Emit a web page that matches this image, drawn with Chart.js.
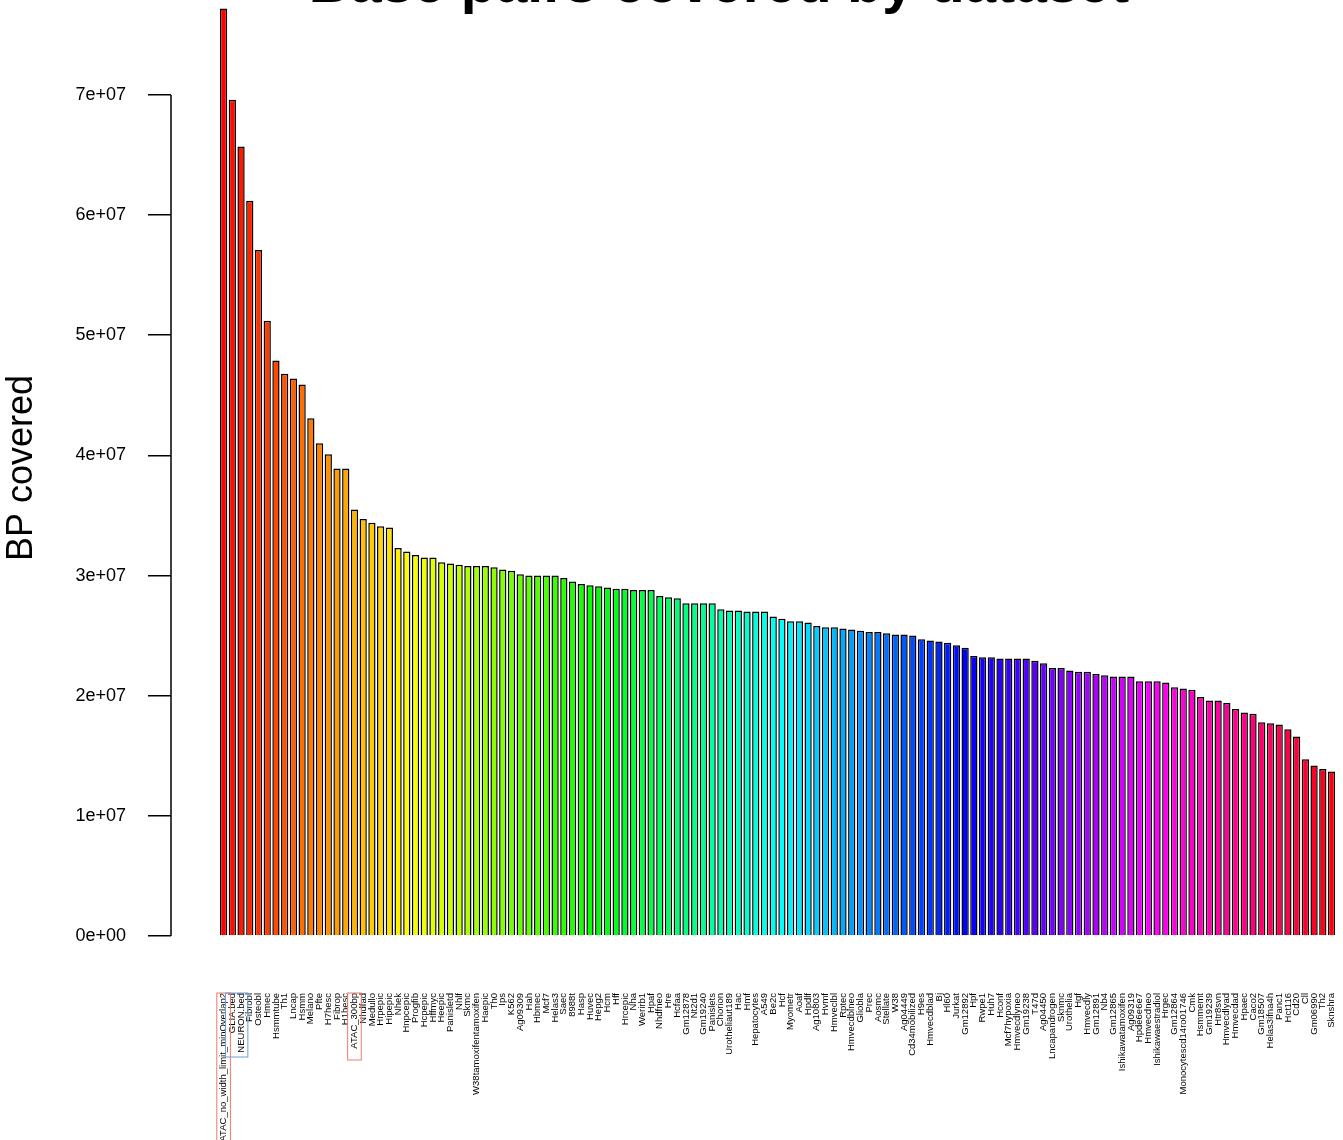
<!DOCTYPE html>
<html>
<head>
<meta charset="utf-8">
<script src="https://cdn.jsdelivr.net/npm/chart.js@4"></script>
<style>
    html, body { margin: 0; padding: 0; background: #fff; }
    #wrap { width: 1343px; height: 1140px; }
</style>
</head>
<body>
<div id="wrap"><canvas id="bpChart" width="1343" height="1140"></canvas></div>
<script>
// Dataset names, in plot order
const datasets = [
    'ATAC_no_width_limit_minOverlap2', 'GLIA.bed', 'NEURON.bed', 'Fibrobl', 'Osteobl', 'Hmec', 'Hsmmtube', 'Th1',
    'Lncap', 'Hsmm', 'Melano', 'Pfte', 'H7hesc', 'Fibrop', 'H1hesc', 'ATAC_300bp', 'Nhdfad', 'Medullo',
    'Hrpepic', 'Hipepic', 'Nhek', 'Hnpcepic', 'Progfib', 'Hcpepic', 'Hffmyc', 'Heepic', 'Panisletd', 'Nhlf',
    'Skmc', 'W38tamoxifentamoxifen', 'Haepic', 'Th0', 'Ips', 'K562', 'Ag09309', 'Hah', 'Hbmec', 'Mcf7',
    'Helas3', 'Saec', '8988t', 'Hasp', 'Huvec', 'Hepg2', 'Hcm', 'Hff', 'Hrcepic', 'Nha', 'Werirb1', 'Hpaf',
    'Nhdfneo', 'Hre', 'Hcfaa', 'Gm12878', 'Nt2d1', 'Gm19240', 'Panislets', 'Chorion', 'Urotheliaut189', 'Hac',
    'Hmf', 'Hepatocytes', 'A549', 'Be2c', 'Hcf', 'Myometr', 'Aoaf', 'Hpdlf', 'Ag10803', 'Hvmf', 'Hmveclbl',
    'Rptec', 'Hmvecdblneo', 'Gliobla', 'Prec', 'Aosmc', 'Stellate', 'W38', 'Ag04449', 'Cd34mobilized', 'H9es',
    'Hmvecdblad', 'Bj', 'Hl60', 'Jurkat', 'Gm12892', 'Hpf', 'Rwpe1', 'Huh7', 'Hconf', 'Mcf7hypoxia',
    'Hmvecdlyneo', 'Gm19238', 'T47d', 'Ag04450', 'Lncapandrogen', 'Sknmc', 'Urothelia', 'Hgf', 'Hmvecdly',
    'Gm12891', 'Nb4', 'Gm12865', 'Ishikawatamoxifen', 'Ag09319', 'Hpde6e6e7', 'Hmvecdneo', 'Ishikawaestradiol',
    'Hrgec', 'Gm12864', 'Monocytescd14ro01746', 'Cmk', 'Hsmmemt', 'Gm19239', 'Htr8svn', 'Hmvecdlyad',
    'Hmvecdad', 'Hpaec', 'Caco2', 'Gm18507', 'Helas3ifna4h', 'Panc1', 'Hct116', 'Cd20', 'Cll', 'Gm06990',
    'Th2', 'Sknshra'
];

// Base pairs covered, in millions
const bpMillions = [
    77.2, 69.6, 65.7, 61.2, 57.1, 51.2, 47.9, 46.8, 46.4, 45.9, 43.1, 41.0, 40.1, 38.9, 38.9, 35.5,
    34.7, 34.4, 34.1, 34.0, 32.3, 32.0, 31.7, 31.5, 31.5, 31.1, 31.0, 30.9, 30.8, 30.8, 30.8, 30.7,
    30.5, 30.4, 30.1, 30.0, 30.0, 30.0, 30.0, 29.8, 29.5, 29.3, 29.2, 29.1, 29.0, 28.9, 28.9, 28.8,
    28.8, 28.8, 28.3, 28.2, 28.1, 27.7, 27.7, 27.7, 27.7, 27.2, 27.1, 27.1, 27.0, 27.0, 27.0, 26.6,
    26.4, 26.2, 26.2, 26.1, 25.8, 25.7, 25.7, 25.6, 25.5, 25.4, 25.3, 25.3, 25.2, 25.1, 25.1, 25.0,
    24.7, 24.6, 24.5, 24.4, 24.2, 24.0, 23.3, 23.2, 23.2, 23.1, 23.1, 23.1, 23.1, 22.9, 22.7, 22.3,
    22.3, 22.1, 22.0, 22.0, 21.8, 21.7, 21.6, 21.6, 21.6, 21.2, 21.2, 21.2, 21.1, 20.7, 20.6, 20.5,
    19.9, 19.6, 19.6, 19.4, 18.9, 18.6, 18.5, 17.8, 17.7, 17.6, 17.2, 16.6, 14.7, 14.2, 13.9, 13.7
];

// Y axis tick values
const yTicks = [0, 1e7, 2e7, 3e7, 4e7, 5e7, 6e7, 7e7];

// Labels that get a box drawn round them: [first index, last index, colour, box length]
const boxedLabels = [
    [0, 0, '#f07a6a', 160],
    [1, 2, '#6f9fd8', 64],
    [15, 15, '#f07a6a', 67]
];

const FONT = '"Liberation Sans", Helvetica, Arial, sans-serif';

// R-style rainbow colours
const barColors = datasets.map((_, i) => `hsl(${(i / datasets.length) * 360}, 100%, 50%)`);

// Title, axis line and label boxes
const extras = {
    id: 'extras',
    afterDraw(chart) {
        const ctx = chart.ctx;
        const x = chart.scales.x;
        const y = chart.scales.y;
        ctx.save();

        // title (runs off the top of the picture)
        ctx.fillStyle = '#000';
        ctx.font = 'bold 57px ' + FONT;
        ctx.textAlign = 'center';
        ctx.textBaseline = 'alphabetic';
        ctx.fillText('Base pairs covered by dataset', 719, 2);

        // axis line only over the tick range
        ctx.strokeStyle = '#000';
        ctx.lineWidth = 1.5;
        ctx.beginPath();
        ctx.moveTo(chart.chartArea.left, y.getPixelForValue(yTicks[0]));
        ctx.lineTo(chart.chartArea.left, y.getPixelForValue(yTicks[yTicks.length - 1]));
        ctx.stroke();

        // boxes round some labels
        const half = (x.getPixelForValue(1) - x.getPixelForValue(0)) * 0.78;
        const top = chart.chartArea.bottom + 57;
        ctx.lineWidth = 1;
        boxedLabels.forEach(([a, b, col, len]) => {
            const x0 = x.getPixelForValue(a) - half;
            const x1 = x.getPixelForValue(b) + half;
            ctx.strokeStyle = col;
            ctx.strokeRect(x0, top, x1 - x0, len);
        });
        ctx.restore();
    }
};

new Chart(document.getElementById('bpChart'), {
    type: 'bar',
    data: {
        datasets: [{
            data: bpMillions.map((v, i) => ({ x: i, y: v * 1e6 })),
            backgroundColor: barColors,
            borderColor: '#000',
            borderWidth: 1.5,
            barPercentage: 0.833,
            categoryPercentage: 1
        }]
    },
    options: {
        responsive: false,
        animation: false,
        layout: { padding: { top: 0, left: 0, right: 1, bottom: 0 } },
        plugins: {
            legend: { display: false },
            tooltip: { enabled: false }
        },
        scales: {
            x: {
                type: 'linear',
                offset: false,
                min: -6.03,
                max: 128.2,
                afterBuildTicks: (scale) => {
                    scale.ticks = datasets.map((_, i) => ({ value: i }));
                },
                afterFit: (scale) => {
                    scale.height = 204;
                    scale.paddingLeft = 0;
                    scale.paddingRight = 0;
                },
                grid: { display: false, drawTicks: false },
                border: { display: false },
                ticks: {
                    autoSkip: false,
                    minRotation: 90,
                    maxRotation: 90,
                    padding: 57,
                    color: '#000',
                    font: { family: FONT, size: 9.5 },
                    callback: (v) => datasets[v] ?? ''
                }
            },
            y: {
                min: 0,
                max: 7.79e7,
                afterBuildTicks: (scale) => {
                    scale.ticks = yTicks.map(v => ({ value: v }));
                },
                afterFit: (scale) => {
                    scale.width = 171;
                    scale.paddingTop = 0;
                    scale.paddingBottom = 0;
                },
                border: { display: false },
                grid: {
                    drawOnChartArea: false,
                    drawTicks: true,
                    tickLength: 23,
                    color: '#000',
                    lineWidth: 1.5
                },
                ticks: {
                    padding: 22,
                    color: '#000',
                    font: { family: FONT, size: 18 },
                    callback: (v) => v === 0 ? '0e+00' : (v / 1e7) + 'e+07'
                },
                title: {
                    display: true,
                    text: 'BP covered',
                    color: '#000',
                    padding: 0,
                    font: { family: FONT, size: 36 }
                }
            }
        }
    },
    plugins: [extras]
});
</script>
</body>
</html>
